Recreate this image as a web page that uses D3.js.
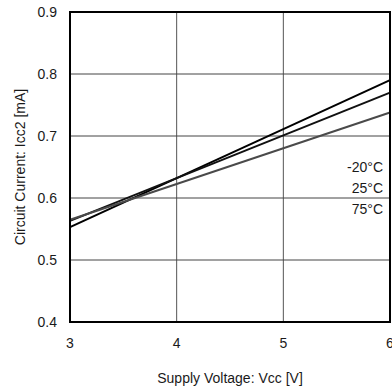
<!DOCTYPE html>
<html>
<head>
<meta charset="utf-8">
<script src="https://cdn.jsdelivr.net/npm/d3@7"></script>
<style>
  body { margin: 0; background: #fff; }
  text { font-family: "Liberation Sans", Arial, sans-serif; fill: #1a1a1a; }
</style>
</head>
<body>
<div id="chart"></div>
<script>
// supply voltage endpoints [V]
var voltages = [3, 6]
// temperature labels
var temps = ['-20°C', '25°C', '75°C']
// circuit current [mA] at 3 V and 6 V for each temperature
var currentM20 = [0.553, 0.790]
var current25 = [0.563, 0.770]
var current75 = [0.565, 0.738]
var xTicks = [3, 4, 5, 6]
var yTicks = [0.4, 0.5, 0.6, 0.7, 0.8, 0.9]

var width = 392, height = 389
var margin = {left: 70, right: 2, top: 12, bottom: 67}

var svg = d3.select('#chart').append('svg')
  .attr('width', width)
  .attr('height', height)

var x = d3.scaleLinear().domain([3, 6]).range([margin.left, width - margin.right])
var y = d3.scaleLinear().domain([0.4, 0.9]).range([height - margin.bottom, margin.top])

// grid
svg.append('g').selectAll('line.vg')
  .data(xTicks.slice(1, -1))
  .enter().append('line')
    .attr('x1', function(d) { return x(d) }).attr('x2', function(d) { return x(d) })
    .attr('y1', y(0.4)).attr('y2', y(0.9))
    .attr('stroke', '#555').attr('stroke-width', 1)

svg.append('g').selectAll('line.hg')
  .data(yTicks.slice(1, -1))
  .enter().append('line')
    .attr('x1', x(3)).attr('x2', x(6))
    .attr('y1', function(d) { return y(d) }).attr('y2', function(d) { return y(d) })
    .attr('stroke', '#444').attr('stroke-width', 1)

// series
var series = [
  {name: temps[0], values: currentM20, color: '#000'},
  {name: temps[1], values: current25, color: '#111'},
  {name: temps[2], values: current75, color: '#4a4a4a'}
]

var line = d3.line()
  .x(function(d, i) { return x(voltages[i]) })
  .y(function(d) { return y(d) })

svg.append('g').selectAll('path')
  .data(series)
  .enter().append('path')
    .attr('d', function(d) { return line(d.values) })
    .attr('fill', 'none')
    .attr('stroke', function(d) { return d.color })
    .attr('stroke-width', 2)

// frame
svg.append('rect')
  .attr('x', x(3)).attr('y', y(0.9))
  .attr('width', x(6) - x(3)).attr('height', y(0.4) - y(0.9))
  .attr('fill', 'none').attr('stroke', '#000').attr('stroke-width', 2)

// y tick labels
svg.append('g').selectAll('text')
  .data(yTicks)
  .enter().append('text')
    .attr('x', 57)
    .attr('y', function(d) { return y(d) + 5 })
    .attr('text-anchor', 'end')
    .style('font-size', '14px')
    .text(function(d) { return d3.format('.1f')(d) })

// x tick labels
svg.append('g').selectAll('text')
  .data(xTicks)
  .enter().append('text')
    .attr('x', function(d) { return x(d) })
    .attr('y', 348)
    .attr('text-anchor', 'middle')
    .style('font-size', '14px')
    .text(function(d) { return d })

// axis titles
svg.append('text')
  .attr('x', (x(3) + x(6)) / 2)
  .attr('y', 383)
  .attr('text-anchor', 'middle')
  .style('font-size', '14px')
  .text('Supply Voltage: Vcc [V]')

svg.append('text')
  .attr('transform', 'translate(25,' + (y(0.4) + y(0.9)) / 2 + ') rotate(-90)')
  .attr('text-anchor', 'middle')
  .style('font-size', '14px')
  .text('Circuit Current: Icc2 [mA]')

// temperature labels
svg.append('g').selectAll('text')
  .data(temps)
  .enter().append('text')
    .attr('x', 383)
    .attr('y', function(d, i) { return 172 + i * 21 })
    .attr('text-anchor', 'end')
    .style('font-size', '14px')
    .text(function(d) { return d })
</script>
</body>
</html>
